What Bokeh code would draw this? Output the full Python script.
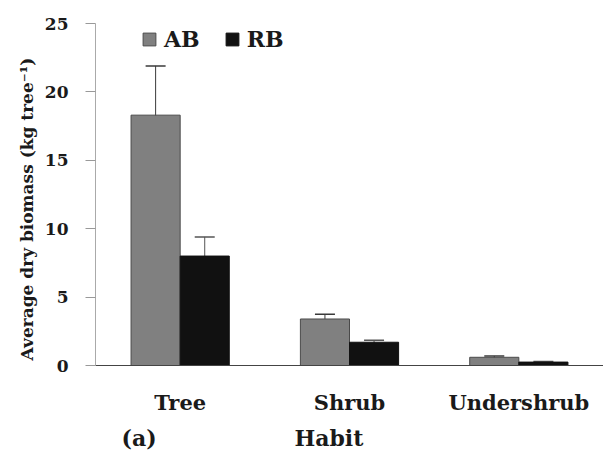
from bokeh.plotting import figure
from bokeh.models import (ColumnDataSource, FactorRange, Range1d, SingleIntervalTicker,
                          Whisker, TeeHead, Legend, LegendItem, Title)
from bokeh.transform import dodge
from bokeh.embed import file_html
from bokeh.resources import INLINE

categories = ["Tree", "Shrub", "Undershrub"]
ab = [18.3, 3.4, 0.6]
rb = [8.0, 1.7, 0.25]
ab_err = [3.6, 0.35, 0.1]
rb_err = [1.4, 0.15, 0.05]
x_title = "Habit"
y_title = "Average dry biomass (kg tree\u207b\u00b9)"
panel_tag = "(a)"

FONT = "DejaVu Serif"
TXT = "#1a1a1a"

src = ColumnDataSource(dict(
    cats=categories, ab=ab, rb=rb,
    ab_hi=[v + e for v, e in zip(ab, ab_err)], ab_lo=[v - e for v, e in zip(ab, ab_err)],
    rb_hi=[v + e for v, e in zip(rb, rb_err)], rb_lo=[v - e for v, e in zip(rb, rb_err)],
))

p = figure(width=603, height=456, output_backend="svg", toolbar_location=None,
           x_range=FactorRange(factors=categories, range_padding=0),
           y_range=Range1d(0, 25),
           min_border_left=95, min_border_right=0, min_border_top=23, min_border_bottom=91)
p.outline_line_color = None
p.grid.visible = False
p.background_fill_color = "white"

off = 0.145
bw = 0.29
r_ab = p.vbar(x=dodge("cats", -off, range=p.x_range), top="ab", width=bw, source=src,
              fill_color="#808080", line_color="#4a4a4a", line_width=1)
r_rb = p.vbar(x=dodge("cats", off, range=p.x_range), top="rb", width=bw, source=src,
              fill_color="#111111", line_color="#111111", line_width=1)

w1 = Whisker(base=dodge("cats", -off, range=p.x_range), upper="ab_hi", lower="ab_lo", source=src,
             line_color="#3a3a3a", line_width=1,
             upper_head=TeeHead(size=20, line_color="#3a3a3a", line_width=1.5),
             lower_head=TeeHead(size=20, line_color="#6a6a6a", line_width=1.5))
w2 = Whisker(base=dodge("cats", off, range=p.x_range), upper="rb_hi", lower="rb_lo", source=src,
             line_color="#555555", line_width=1,
             upper_head=TeeHead(size=20, line_color="#555555", line_width=1.5),
             lower_head=TeeHead(size=20, line_color="#333333", line_width=1.5))
p.add_layout(w1)
p.add_layout(w2)

# axes
p.yaxis.ticker = SingleIntervalTicker(interval=5)
p.yaxis.minor_tick_line_color = None
p.yaxis.major_tick_out = 10
p.yaxis.major_tick_in = 0
p.yaxis.major_tick_line_color = "#999999"
p.yaxis.axis_line_color = "#aaaaaa"
p.yaxis.major_label_standoff = 17
p.yaxis.major_label_text_font = FONT
p.yaxis.major_label_text_font_style = "bold"
p.yaxis.major_label_text_font_size = "17px"
p.yaxis.major_label_text_color = TXT

left_title = Title(text=y_title, align="left", offset=5, standoff=9,
                   text_font=FONT, text_font_style="bold",
                   text_font_size="17px", text_color=TXT)
p.add_layout(left_title, "left")

p.xaxis.axis_line_color = "#444444"
p.xaxis.axis_line_width = 1.2
p.xaxis.major_tick_line_color = None
p.xaxis.minor_tick_line_color = None
p.xaxis.major_tick_out = 0
p.xaxis.major_label_standoff = 24
p.xaxis.major_label_text_font = FONT
p.xaxis.major_label_text_font_style = "bold"
p.xaxis.major_label_text_font_size = "21px"
p.xaxis.major_label_text_color = TXT

bottom_title = Title(text=panel_tag + "\u00a0" * 18 + x_title, align="left", offset=26,
                     standoff=11, text_font=FONT, text_font_style="bold",
                     text_font_size="22px", text_color=TXT)
p.add_layout(bottom_title, "below")

legend = Legend(items=[LegendItem(label="AB", renderers=[r_ab]),
                       LegendItem(label="RB", renderers=[r_rb])],
                orientation="horizontal", location=(46, 313), margin=0, padding=0,
                spacing=24, glyph_width=16, glyph_height=16, label_standoff=7,
                label_text_font=FONT, label_text_font_style="bold",
                label_text_font_size="22px", label_text_color=TXT,
                border_line_color=None, background_fill_alpha=0)
p.add_layout(legend, "center")

open("out.html", "w").write(file_html(p, INLINE))
